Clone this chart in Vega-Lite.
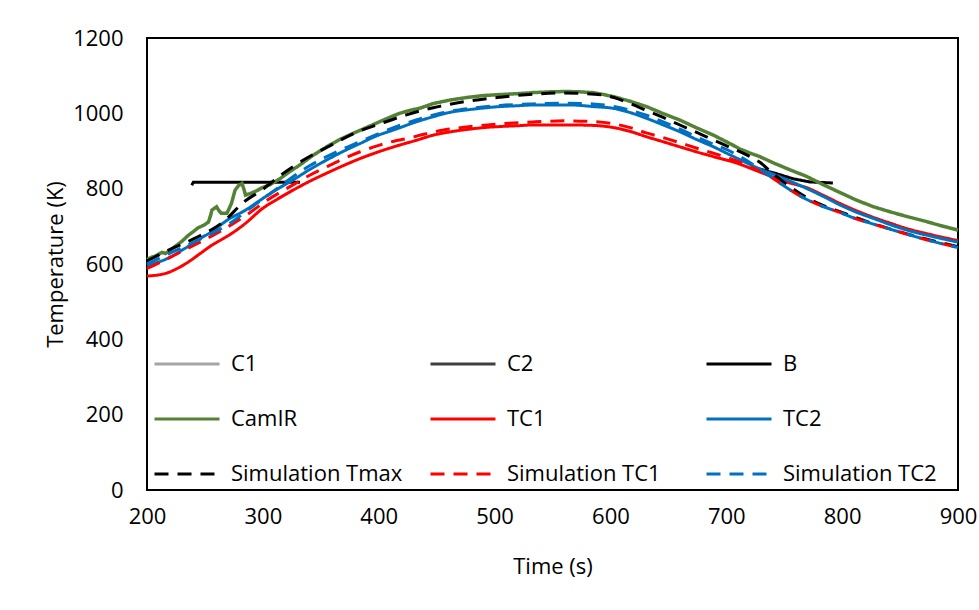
{
  "$schema": "https://vega.github.io/schema/vega-lite/v6.json",
  "width": 811,
  "height": 452,
  "autosize": {"type": "none"},
  "padding": {"left": 147, "top": 38, "right": 21, "bottom": 120},
  "background": "white",
  "datasets": {
    "d": [
      {"s":"B","g":"B1","t":238.6,"T":809},{"s":"B","g":"B1","t":240,"T":817},{"s":"B","g":"B1","t":332,"T":817},
      {"s":"B","g":"B2","t":722,"T":858},{"s":"B","g":"B2","t":741,"T":842},{"s":"B","g":"B2","t":758,"T":826},{"s":"B","g":"B2","t":772,"T":818},{"s":"B","g":"B2","t":792,"T":815},

      {"s":"CamIR","g":"CamIR","t":200,"T":612},{"s":"CamIR","g":"CamIR","t":204,"T":618},{"s":"CamIR","g":"CamIR","t":207,"T":621},{"s":"CamIR","g":"CamIR","t":210,"T":626},{"s":"CamIR","g":"CamIR","t":213,"T":631},{"s":"CamIR","g":"CamIR","t":216,"T":628},{"s":"CamIR","g":"CamIR","t":220,"T":636},{"s":"CamIR","g":"CamIR","t":224,"T":646},{"s":"CamIR","g":"CamIR","t":230,"T":660},{"s":"CamIR","g":"CamIR","t":236,"T":677},{"s":"CamIR","g":"CamIR","t":240,"T":686},{"s":"CamIR","g":"CamIR","t":244,"T":696},{"s":"CamIR","g":"CamIR","t":249,"T":703},{"s":"CamIR","g":"CamIR","t":253,"T":711},{"s":"CamIR","g":"CamIR","t":255,"T":730},{"s":"CamIR","g":"CamIR","t":256,"T":743},{"s":"CamIR","g":"CamIR","t":260,"T":752},{"s":"CamIR","g":"CamIR","t":262,"T":742},{"s":"CamIR","g":"CamIR","t":264,"T":735},{"s":"CamIR","g":"CamIR","t":269,"T":735},{"s":"CamIR","g":"CamIR","t":271,"T":748},{"s":"CamIR","g":"CamIR","t":273,"T":762},{"s":"CamIR","g":"CamIR","t":276,"T":796},{"s":"CamIR","g":"CamIR","t":279,"T":808},{"s":"CamIR","g":"CamIR","t":282,"T":814},{"s":"CamIR","g":"CamIR","t":284,"T":795},{"s":"CamIR","g":"CamIR","t":285,"T":783},{"s":"CamIR","g":"CamIR","t":288,"T":786},{"s":"CamIR","g":"CamIR","t":290,"T":788},{"s":"CamIR","g":"CamIR","t":295,"T":795},{"s":"CamIR","g":"CamIR","t":299,"T":802},{"s":"CamIR","g":"CamIR","t":307,"T":812},{"s":"CamIR","g":"CamIR","t":315,"T":827},{"s":"CamIR","g":"CamIR","t":323,"T":845},{"s":"CamIR","g":"CamIR","t":332,"T":863},{"s":"CamIR","g":"CamIR","t":343,"T":888},{"s":"CamIR","g":"CamIR","t":355,"T":911},{"s":"CamIR","g":"CamIR","t":366,"T":930},{"s":"CamIR","g":"CamIR","t":378,"T":947},{"s":"CamIR","g":"CamIR","t":390,"T":963},{"s":"CamIR","g":"CamIR","t":401,"T":978},{"s":"CamIR","g":"CamIR","t":410,"T":990},{"s":"CamIR","g":"CamIR","t":418,"T":1000},{"s":"CamIR","g":"CamIR","t":427,"T":1008},{"s":"CamIR","g":"CamIR","t":436,"T":1014},{"s":"CamIR","g":"CamIR","t":447,"T":1026},{"s":"CamIR","g":"CamIR","t":461,"T":1035},{"s":"CamIR","g":"CamIR","t":476,"T":1042},{"s":"CamIR","g":"CamIR","t":490,"T":1047},{"s":"CamIR","g":"CamIR","t":505,"T":1050},{"s":"CamIR","g":"CamIR","t":519,"T":1052},{"s":"CamIR","g":"CamIR","t":533,"T":1055},{"s":"CamIR","g":"CamIR","t":548,"T":1057},{"s":"CamIR","g":"CamIR","t":562,"T":1058},{"s":"CamIR","g":"CamIR","t":574,"T":1057},{"s":"CamIR","g":"CamIR","t":585,"T":1055},{"s":"CamIR","g":"CamIR","t":594,"T":1050},{"s":"CamIR","g":"CamIR","t":603,"T":1044},{"s":"CamIR","g":"CamIR","t":617,"T":1032},{"s":"CamIR","g":"CamIR","t":631,"T":1018},{"s":"CamIR","g":"CamIR","t":645,"T":1000},{"s":"CamIR","g":"CamIR","t":660,"T":982},{"s":"CamIR","g":"CamIR","t":674,"T":962},{"s":"CamIR","g":"CamIR","t":689,"T":942},{"s":"CamIR","g":"CamIR","t":703,"T":920},{"s":"CamIR","g":"CamIR","t":712,"T":905},{"s":"CamIR","g":"CamIR","t":720,"T":895},{"s":"CamIR","g":"CamIR","t":729,"T":885},{"s":"CamIR","g":"CamIR","t":741,"T":868},{"s":"CamIR","g":"CamIR","t":755,"T":850},{"s":"CamIR","g":"CamIR","t":769,"T":833},{"s":"CamIR","g":"CamIR","t":784,"T":810},{"s":"CamIR","g":"CamIR","t":798,"T":790},{"s":"CamIR","g":"CamIR","t":812,"T":770},{"s":"CamIR","g":"CamIR","t":827,"T":752},{"s":"CamIR","g":"CamIR","t":842,"T":738},{"s":"CamIR","g":"CamIR","t":856,"T":726},{"s":"CamIR","g":"CamIR","t":870,"T":715},{"s":"CamIR","g":"CamIR","t":885,"T":702},{"s":"CamIR","g":"CamIR","t":900,"T":690},

      {"s":"TC1","g":"TC1","t":200,"T":568},{"s":"TC1","g":"TC1","t":216,"T":575},{"s":"TC1","g":"TC1","t":226,"T":588},{"s":"TC1","g":"TC1","t":236,"T":606},{"s":"TC1","g":"TC1","t":246,"T":628},{"s":"TC1","g":"TC1","t":256,"T":650},{"s":"TC1","g":"TC1","t":265,"T":666},{"s":"TC1","g":"TC1","t":273,"T":681},{"s":"TC1","g":"TC1","t":285,"T":708},{"s":"TC1","g":"TC1","t":300,"T":748},{"s":"TC1","g":"TC1","t":313,"T":773},{"s":"TC1","g":"TC1","t":326,"T":796},{"s":"TC1","g":"TC1","t":340,"T":819},{"s":"TC1","g":"TC1","t":355,"T":841},{"s":"TC1","g":"TC1","t":370,"T":862},{"s":"TC1","g":"TC1","t":384,"T":880},{"s":"TC1","g":"TC1","t":398,"T":896},{"s":"TC1","g":"TC1","t":413,"T":911},{"s":"TC1","g":"TC1","t":433,"T":929},{"s":"TC1","g":"TC1","t":447,"T":942},{"s":"TC1","g":"TC1","t":462,"T":951},{"s":"TC1","g":"TC1","t":476,"T":957},{"s":"TC1","g":"TC1","t":490,"T":962},{"s":"TC1","g":"TC1","t":505,"T":965},{"s":"TC1","g":"TC1","t":519,"T":967},{"s":"TC1","g":"TC1","t":533,"T":969},{"s":"TC1","g":"TC1","t":548,"T":969},{"s":"TC1","g":"TC1","t":567,"T":969},{"s":"TC1","g":"TC1","t":585,"T":968},{"s":"TC1","g":"TC1","t":603,"T":962},{"s":"TC1","g":"TC1","t":617,"T":952},{"s":"TC1","g":"TC1","t":631,"T":938},{"s":"TC1","g":"TC1","t":645,"T":925},{"s":"TC1","g":"TC1","t":660,"T":911},{"s":"TC1","g":"TC1","t":674,"T":898},{"s":"TC1","g":"TC1","t":689,"T":885},{"s":"TC1","g":"TC1","t":709,"T":868},{"s":"TC1","g":"TC1","t":726,"T":848},{"s":"TC1","g":"TC1","t":741,"T":830},{"s":"TC1","g":"TC1","t":755,"T":815},{"s":"TC1","g":"TC1","t":769,"T":803},{"s":"TC1","g":"TC1","t":784,"T":782},{"s":"TC1","g":"TC1","t":798,"T":761},{"s":"TC1","g":"TC1","t":812,"T":742},{"s":"TC1","g":"TC1","t":827,"T":724},{"s":"TC1","g":"TC1","t":842,"T":708},{"s":"TC1","g":"TC1","t":856,"T":694},{"s":"TC1","g":"TC1","t":878,"T":677},{"s":"TC1","g":"TC1","t":900,"T":662},

      {"s":"TC2","g":"TC2","t":200,"T":597},{"s":"TC2","g":"TC2","t":215,"T":611},{"s":"TC2","g":"TC2","t":233,"T":642},{"s":"TC2","g":"TC2","t":246,"T":668},{"s":"TC2","g":"TC2","t":256,"T":686},{"s":"TC2","g":"TC2","t":270,"T":718},{"s":"TC2","g":"TC2","t":285,"T":743},{"s":"TC2","g":"TC2","t":298,"T":770},{"s":"TC2","g":"TC2","t":312,"T":798},{"s":"TC2","g":"TC2","t":326,"T":823},{"s":"TC2","g":"TC2","t":340,"T":850},{"s":"TC2","g":"TC2","t":355,"T":876},{"s":"TC2","g":"TC2","t":370,"T":900},{"s":"TC2","g":"TC2","t":384,"T":920},{"s":"TC2","g":"TC2","t":398,"T":940},{"s":"TC2","g":"TC2","t":413,"T":956},{"s":"TC2","g":"TC2","t":433,"T":978},{"s":"TC2","g":"TC2","t":447,"T":991},{"s":"TC2","g":"TC2","t":462,"T":1003},{"s":"TC2","g":"TC2","t":476,"T":1009},{"s":"TC2","g":"TC2","t":490,"T":1014},{"s":"TC2","g":"TC2","t":505,"T":1018},{"s":"TC2","g":"TC2","t":519,"T":1020},{"s":"TC2","g":"TC2","t":533,"T":1022},{"s":"TC2","g":"TC2","t":548,"T":1022},{"s":"TC2","g":"TC2","t":567,"T":1022},{"s":"TC2","g":"TC2","t":585,"T":1018},{"s":"TC2","g":"TC2","t":603,"T":1013},{"s":"TC2","g":"TC2","t":617,"T":1002},{"s":"TC2","g":"TC2","t":631,"T":987},{"s":"TC2","g":"TC2","t":645,"T":970},{"s":"TC2","g":"TC2","t":660,"T":951},{"s":"TC2","g":"TC2","t":674,"T":931},{"s":"TC2","g":"TC2","t":689,"T":911},{"s":"TC2","g":"TC2","t":703,"T":890},{"s":"TC2","g":"TC2","t":718,"T":868},{"s":"TC2","g":"TC2","t":729,"T":852},{"s":"TC2","g":"TC2","t":741,"T":838},{"s":"TC2","g":"TC2","t":755,"T":820},{"s":"TC2","g":"TC2","t":769,"T":801},{"s":"TC2","g":"TC2","t":784,"T":779},{"s":"TC2","g":"TC2","t":798,"T":757},{"s":"TC2","g":"TC2","t":812,"T":738},{"s":"TC2","g":"TC2","t":827,"T":721},{"s":"TC2","g":"TC2","t":842,"T":704},{"s":"TC2","g":"TC2","t":856,"T":690},{"s":"TC2","g":"TC2","t":878,"T":673},{"s":"TC2","g":"TC2","t":900,"T":658},

      {"s":"Simulation Tmax","g":"Simulation Tmax","t":200,"T":608},{"s":"Simulation Tmax","g":"Simulation Tmax","t":216,"T":633},{"s":"Simulation Tmax","g":"Simulation Tmax","t":241,"T":668},{"s":"Simulation Tmax","g":"Simulation Tmax","t":265,"T":710},{"s":"Simulation Tmax","g":"Simulation Tmax","t":285,"T":768},{"s":"Simulation Tmax","g":"Simulation Tmax","t":299,"T":796},{"s":"Simulation Tmax","g":"Simulation Tmax","t":315,"T":835},{"s":"Simulation Tmax","g":"Simulation Tmax","t":335,"T":876},{"s":"Simulation Tmax","g":"Simulation Tmax","t":358,"T":914},{"s":"Simulation Tmax","g":"Simulation Tmax","t":381,"T":950},{"s":"Simulation Tmax","g":"Simulation Tmax","t":401,"T":972},{"s":"Simulation Tmax","g":"Simulation Tmax","t":424,"T":996},{"s":"Simulation Tmax","g":"Simulation Tmax","t":447,"T":1015},{"s":"Simulation Tmax","g":"Simulation Tmax","t":476,"T":1032},{"s":"Simulation Tmax","g":"Simulation Tmax","t":505,"T":1043},{"s":"Simulation Tmax","g":"Simulation Tmax","t":533,"T":1051},{"s":"Simulation Tmax","g":"Simulation Tmax","t":560,"T":1054},{"s":"Simulation Tmax","g":"Simulation Tmax","t":574,"T":1053},{"s":"Simulation Tmax","g":"Simulation Tmax","t":593,"T":1049},{"s":"Simulation Tmax","g":"Simulation Tmax","t":603,"T":1042},{"s":"Simulation Tmax","g":"Simulation Tmax","t":617,"T":1026},{"s":"Simulation Tmax","g":"Simulation Tmax","t":631,"T":1008},{"s":"Simulation Tmax","g":"Simulation Tmax","t":645,"T":990},{"s":"Simulation Tmax","g":"Simulation Tmax","t":660,"T":969},{"s":"Simulation Tmax","g":"Simulation Tmax","t":674,"T":950},{"s":"Simulation Tmax","g":"Simulation Tmax","t":689,"T":929},{"s":"Simulation Tmax","g":"Simulation Tmax","t":703,"T":910},{"s":"Simulation Tmax","g":"Simulation Tmax","t":718,"T":889},{"s":"Simulation Tmax","g":"Simulation Tmax","t":729,"T":870},{"s":"Simulation Tmax","g":"Simulation Tmax","t":741,"T":838},{"s":"Simulation Tmax","g":"Simulation Tmax","t":755,"T":805},{"s":"Simulation Tmax","g":"Simulation Tmax","t":769,"T":777},{"s":"Simulation Tmax","g":"Simulation Tmax","t":784,"T":755},{"s":"Simulation Tmax","g":"Simulation Tmax","t":798,"T":739},{"s":"Simulation Tmax","g":"Simulation Tmax","t":827,"T":707},{"s":"Simulation Tmax","g":"Simulation Tmax","t":856,"T":680},{"s":"Simulation Tmax","g":"Simulation Tmax","t":900,"T":646},

      {"s":"Simulation TC1","g":"Simulation TC1","t":200,"T":588},{"s":"Simulation TC1","g":"Simulation TC1","t":212,"T":605},{"s":"Simulation TC1","g":"Simulation TC1","t":224,"T":624},{"s":"Simulation TC1","g":"Simulation TC1","t":244,"T":655},{"s":"Simulation TC1","g":"Simulation TC1","t":265,"T":690},{"s":"Simulation TC1","g":"Simulation TC1","t":285,"T":728},{"s":"Simulation TC1","g":"Simulation TC1","t":303,"T":768},{"s":"Simulation TC1","g":"Simulation TC1","t":326,"T":810},{"s":"Simulation TC1","g":"Simulation TC1","t":340,"T":835},{"s":"Simulation TC1","g":"Simulation TC1","t":355,"T":858},{"s":"Simulation TC1","g":"Simulation TC1","t":370,"T":880},{"s":"Simulation TC1","g":"Simulation TC1","t":384,"T":898},{"s":"Simulation TC1","g":"Simulation TC1","t":400,"T":915},{"s":"Simulation TC1","g":"Simulation TC1","t":413,"T":926},{"s":"Simulation TC1","g":"Simulation TC1","t":424,"T":933},{"s":"Simulation TC1","g":"Simulation TC1","t":440,"T":945},{"s":"Simulation TC1","g":"Simulation TC1","t":455,"T":955},{"s":"Simulation TC1","g":"Simulation TC1","t":476,"T":964},{"s":"Simulation TC1","g":"Simulation TC1","t":505,"T":972},{"s":"Simulation TC1","g":"Simulation TC1","t":533,"T":977},{"s":"Simulation TC1","g":"Simulation TC1","t":547,"T":979},{"s":"Simulation TC1","g":"Simulation TC1","t":562,"T":980},{"s":"Simulation TC1","g":"Simulation TC1","t":585,"T":978},{"s":"Simulation TC1","g":"Simulation TC1","t":603,"T":972},{"s":"Simulation TC1","g":"Simulation TC1","t":617,"T":962},{"s":"Simulation TC1","g":"Simulation TC1","t":631,"T":948},{"s":"Simulation TC1","g":"Simulation TC1","t":645,"T":936},{"s":"Simulation TC1","g":"Simulation TC1","t":660,"T":922},{"s":"Simulation TC1","g":"Simulation TC1","t":674,"T":908},{"s":"Simulation TC1","g":"Simulation TC1","t":689,"T":894},{"s":"Simulation TC1","g":"Simulation TC1","t":703,"T":880},{"s":"Simulation TC1","g":"Simulation TC1","t":712,"T":870},{"s":"Simulation TC1","g":"Simulation TC1","t":726,"T":850},{"s":"Simulation TC1","g":"Simulation TC1","t":741,"T":826},{"s":"Simulation TC1","g":"Simulation TC1","t":755,"T":797},{"s":"Simulation TC1","g":"Simulation TC1","t":769,"T":772},{"s":"Simulation TC1","g":"Simulation TC1","t":784,"T":752},{"s":"Simulation TC1","g":"Simulation TC1","t":798,"T":737},{"s":"Simulation TC1","g":"Simulation TC1","t":812,"T":720},{"s":"Simulation TC1","g":"Simulation TC1","t":827,"T":706},{"s":"Simulation TC1","g":"Simulation TC1","t":842,"T":692},{"s":"Simulation TC1","g":"Simulation TC1","t":856,"T":679},{"s":"Simulation TC1","g":"Simulation TC1","t":878,"T":660},{"s":"Simulation TC1","g":"Simulation TC1","t":900,"T":644},

      {"s":"Simulation TC2","g":"Simulation TC2","t":200,"T":600},{"s":"Simulation TC2","g":"Simulation TC2","t":225,"T":636},{"s":"Simulation TC2","g":"Simulation TC2","t":250,"T":672},{"s":"Simulation TC2","g":"Simulation TC2","t":270,"T":705},{"s":"Simulation TC2","g":"Simulation TC2","t":290,"T":750},{"s":"Simulation TC2","g":"Simulation TC2","t":310,"T":795},{"s":"Simulation TC2","g":"Simulation TC2","t":323,"T":825},{"s":"Simulation TC2","g":"Simulation TC2","t":340,"T":860},{"s":"Simulation TC2","g":"Simulation TC2","t":364,"T":898},{"s":"Simulation TC2","g":"Simulation TC2","t":384,"T":925},{"s":"Simulation TC2","g":"Simulation TC2","t":400,"T":946},{"s":"Simulation TC2","g":"Simulation TC2","t":420,"T":970},{"s":"Simulation TC2","g":"Simulation TC2","t":433,"T":983},{"s":"Simulation TC2","g":"Simulation TC2","t":450,"T":998},{"s":"Simulation TC2","g":"Simulation TC2","t":476,"T":1012},{"s":"Simulation TC2","g":"Simulation TC2","t":505,"T":1021},{"s":"Simulation TC2","g":"Simulation TC2","t":533,"T":1025},{"s":"Simulation TC2","g":"Simulation TC2","t":562,"T":1027},{"s":"Simulation TC2","g":"Simulation TC2","t":585,"T":1025},{"s":"Simulation TC2","g":"Simulation TC2","t":603,"T":1018},{"s":"Simulation TC2","g":"Simulation TC2","t":617,"T":1008},{"s":"Simulation TC2","g":"Simulation TC2","t":631,"T":995},{"s":"Simulation TC2","g":"Simulation TC2","t":645,"T":978},{"s":"Simulation TC2","g":"Simulation TC2","t":660,"T":958},{"s":"Simulation TC2","g":"Simulation TC2","t":674,"T":938},{"s":"Simulation TC2","g":"Simulation TC2","t":689,"T":918},{"s":"Simulation TC2","g":"Simulation TC2","t":703,"T":900},{"s":"Simulation TC2","g":"Simulation TC2","t":712,"T":885},{"s":"Simulation TC2","g":"Simulation TC2","t":726,"T":858},{"s":"Simulation TC2","g":"Simulation TC2","t":741,"T":826},{"s":"Simulation TC2","g":"Simulation TC2","t":755,"T":797},{"s":"Simulation TC2","g":"Simulation TC2","t":769,"T":772},{"s":"Simulation TC2","g":"Simulation TC2","t":784,"T":752},{"s":"Simulation TC2","g":"Simulation TC2","t":798,"T":737},{"s":"Simulation TC2","g":"Simulation TC2","t":812,"T":720},{"s":"Simulation TC2","g":"Simulation TC2","t":827,"T":706},{"s":"Simulation TC2","g":"Simulation TC2","t":842,"T":692},{"s":"Simulation TC2","g":"Simulation TC2","t":856,"T":679},{"s":"Simulation TC2","g":"Simulation TC2","t":878,"T":660},{"s":"Simulation TC2","g":"Simulation TC2","t":900,"T":644}
    ]
  },
  "data": {"name": "d"},
  "encoding": {
    "x": {"field": "t", "type": "quantitative", "title": "Time (s)",
      "scale": {"domain": [200, 900], "nice": false, "zero": false},
      "axis": {"values": [200, 300, 400, 500, 600, 700, 800, 900], "format": "d", "labelPadding": 16, "titlePadding": 29, "labelFlush": false, "labelOverlap": false}},
    "y": {"field": "T", "type": "quantitative", "title": "Temperature (K)",
      "scale": {"domain": [0, 1200], "nice": false},
      "axis": {"values": [0, 200, 400, 600, 800, 1000, 1200], "format": "d", "labelPadding": 24, "titlePadding": 5, "labelFlush": false, "labelOverlap": false}},
    "color": {"field": "s", "type": "nominal",
      "scale": {"domain": ["C1", "C2", "B", "CamIR", "TC1", "TC2", "Simulation Tmax", "Simulation TC1", "Simulation TC2"],
                "range": ["#A5A5A5", "#404040", "#000000", "#548235", "#FF0000", "#0070C0", "#000000", "#FF0000", "#0070C0"]},
      "legend": {"title": null}},
    "strokeDash": {"field": "s", "type": "nominal",
      "scale": {"domain": ["C1", "C2", "B", "CamIR", "TC1", "TC2", "Simulation Tmax", "Simulation TC1", "Simulation TC2"],
                "range": [[1, 0], [1, 0], [1, 0], [1, 0], [1, 0], [1, 0], [14, 9], [14, 9], [14, 9]]},
      "legend": {"title": null}},
    "detail": {"field": "g"}
  },
  "layer": [
    {"transform": [{"filter": {"field": "s", "equal": "B"}}], "mark": {"type": "line", "strokeWidth": 3, "interpolate": "linear"}},
    {"transform": [{"filter": {"field": "s", "equal": "CamIR"}}], "mark": {"type": "line", "strokeWidth": 3.5, "interpolate": "linear"}},
    {"transform": [{"filter": {"field": "s", "equal": "TC1"}}], "mark": {"type": "line", "strokeWidth": 3, "interpolate": "monotone"}},
    {"transform": [{"filter": {"field": "s", "equal": "TC2"}}], "mark": {"type": "line", "strokeWidth": 3, "interpolate": "monotone"}},
    {"transform": [{"filter": {"field": "s", "equal": "Simulation Tmax"}}], "mark": {"type": "line", "strokeWidth": 3, "interpolate": "monotone"}},
    {"transform": [{"filter": {"field": "s", "equal": "Simulation TC1"}}], "mark": {"type": "line", "strokeWidth": 3, "interpolate": "monotone"}},
    {"transform": [{"filter": {"field": "s", "equal": "Simulation TC2"}}], "mark": {"type": "line", "strokeWidth": 3, "interpolate": "monotone"}}
  ],
  "config": {
    "font": "Open Sans",
    "view": {"stroke": "#000000", "strokeWidth": 2},
    "axis": {"grid": false, "domain": false, "ticks": false,
      "labelFont": "Open Sans", "labelFontSize": 22, "labelColor": "#000000",
      "titleFont": "Open Sans", "titleFontSize": 22, "titleFontWeight": "normal", "titleColor": "#000000"},
    "legend": {"orient": "none", "legendX": 6, "legendY": 292, "columns": 3, "direction": "horizontal",
      "symbolType": "stroke", "symbolSize": 4225, "symbolStrokeWidth": 3,
      "labelFont": "Open Sans", "labelFontSize": 22, "labelColor": "#000000", "labelOffset": 10, "labelLimit": 400,
      "gridAlign": "all", "columnPadding": 21, "rowPadding": 10, "padding": 0}
  }
}
